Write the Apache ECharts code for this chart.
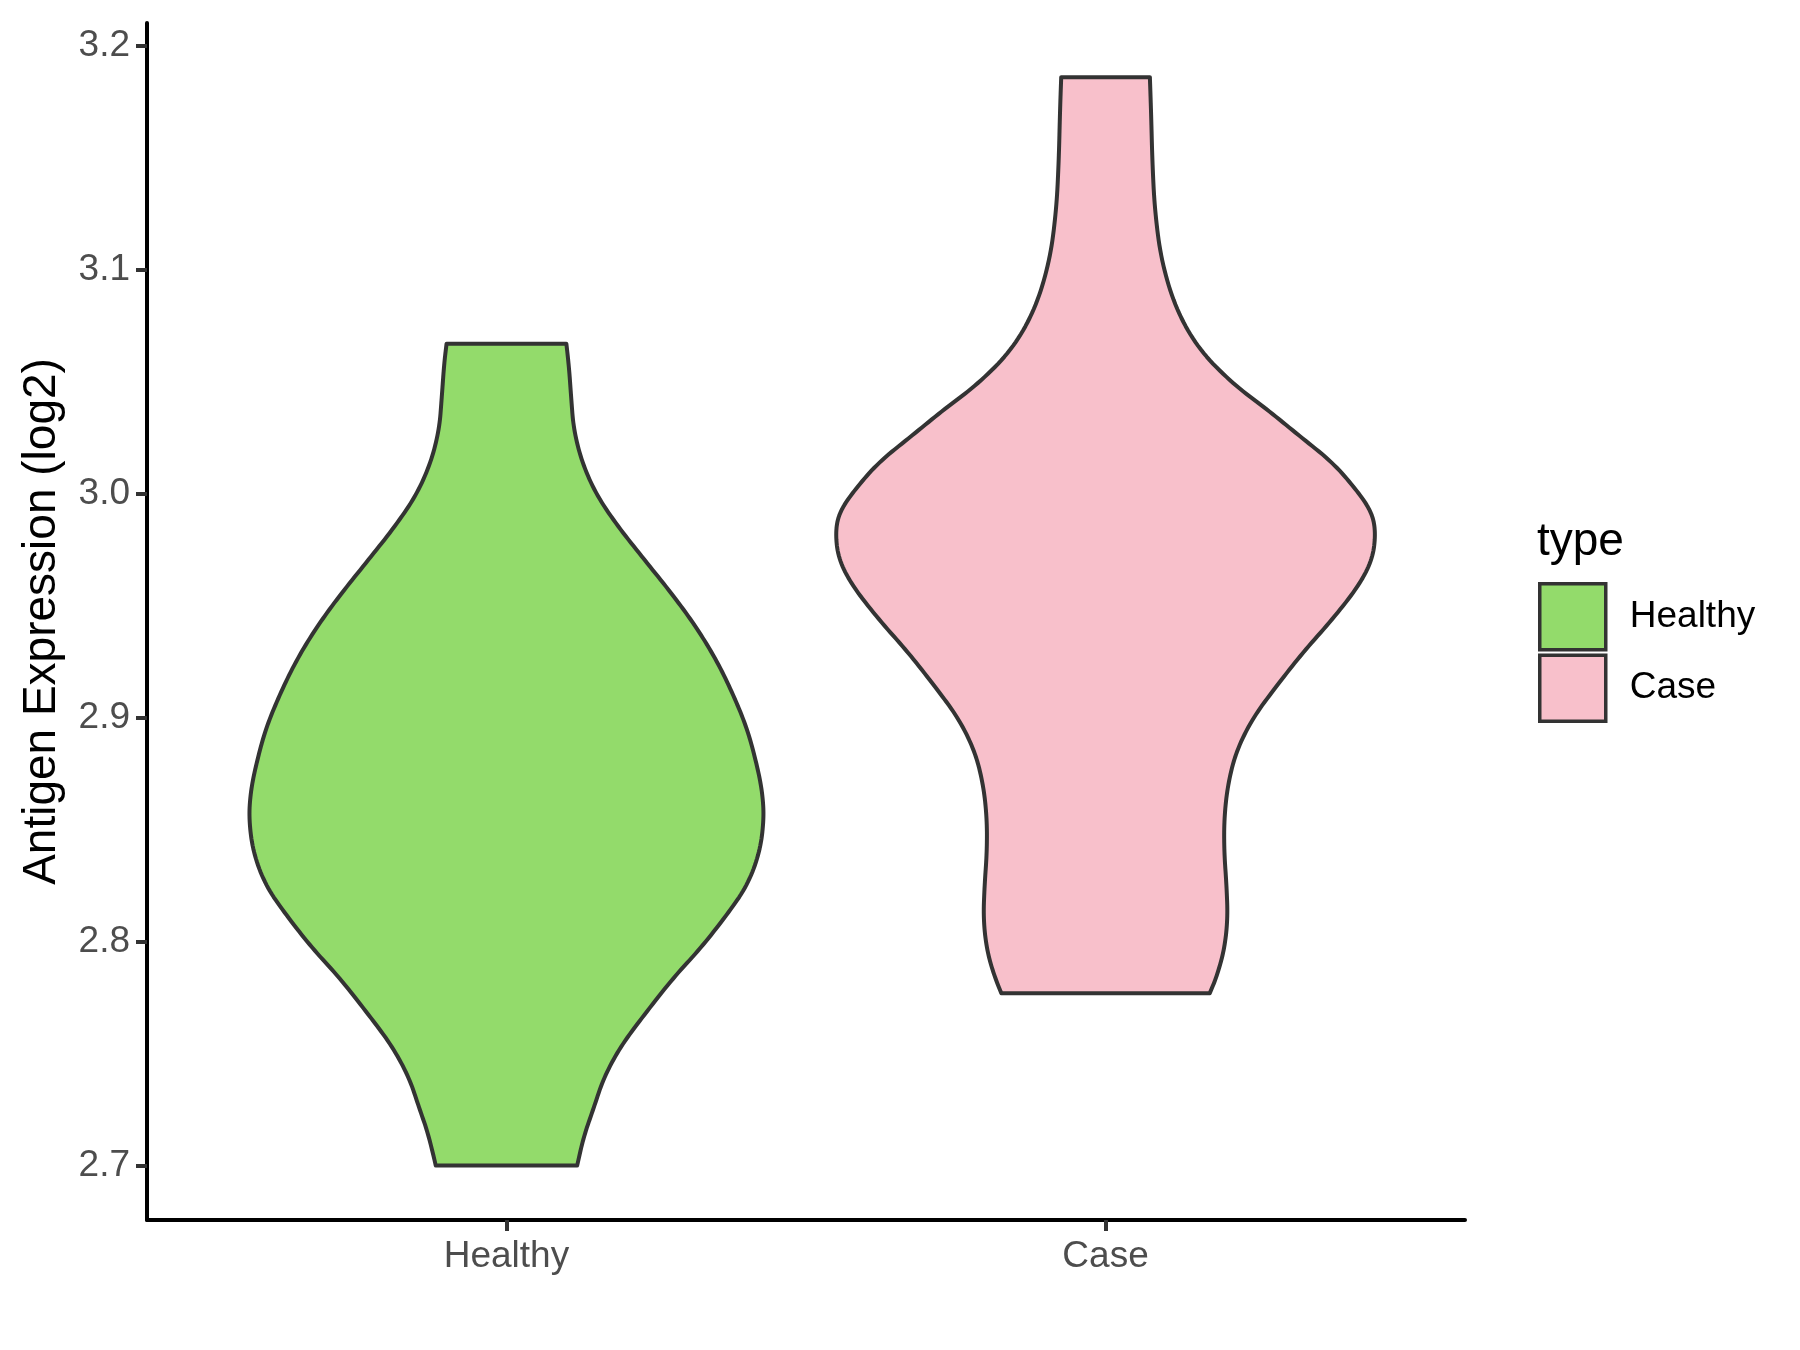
<!DOCTYPE html>
<html>
<head>
<meta charset="utf-8">
<script src="https://cdn.jsdelivr.net/npm/echarts@6/dist/echarts.min.js"></script>
<style>
html,body{margin:0;padding:0;background:#ffffff;}
#chart{width:1800px;height:1350px;}
</style>
</head>
<body>
<div id="chart"></div>
<script>
// ---- data ----
const categories = ['Healthy', 'Case'];
const categoryPos = [1, 2];
const yTicks = [2.7, 2.8, 2.9, 3.0, 3.1, 3.2];

// violin outline: y value (top -> bottom) and half-width (in category units)
const healthyY = [3.067, 3.058, 3.043, 3.029, 3.014, 2.999, 2.984, 2.969, 2.954, 2.940, 2.925, 2.910, 2.895, 2.879, 2.867, 2.855, 2.840, 2.825, 2.812, 2.797, 2.784, 2.767, 2.753, 2.739, 2.726, 2.713, 2.700];
const healthyW = [0.100, 0.104, 0.108, 0.112, 0.126, 0.151, 0.190, 0.235, 0.280, 0.318, 0.352, 0.379, 0.402, 0.418, 0.427, 0.430, 0.423, 0.402, 0.368, 0.324, 0.279, 0.229, 0.190, 0.162, 0.146, 0.129, 0.118];

const caseY = [3.186, 3.171, 3.149, 3.127, 3.104, 3.082, 3.064, 3.049, 3.038, 3.026, 3.014, 3.002, 2.992, 2.983, 2.971, 2.959, 2.944, 2.929, 2.914, 2.900, 2.885, 2.870, 2.855, 2.840, 2.825, 2.810, 2.796, 2.784, 2.777];
const caseW = [0.074, 0.076, 0.078, 0.082, 0.093, 0.118, 0.157, 0.213, 0.268, 0.323, 0.379, 0.418, 0.444, 0.451, 0.446, 0.423, 0.379, 0.329, 0.285, 0.246, 0.218, 0.204, 0.198, 0.198, 0.202, 0.204, 0.198, 0.185, 0.174];

const fillColors = ['#93DB6B', '#F8C0CB'];
const outlineColor = '#333333';
const FONT = '"Liberation Sans", Arial, Helvetica, sans-serif';

const violins = [
  { y: healthyY, w: healthyW },
  { y: caseY, w: caseW }
];

// ---- rendering helpers (smooth the outline through midpoints) ----
function smoothSide(p) {
  const out = [p[0]];
  let cur = p[0];
  for (let i = 1; i < p.length - 1; i++) {
    const c = p[i];
    const end = [(p[i][0] + p[i + 1][0]) / 2, (p[i][1] + p[i + 1][1]) / 2];
    for (let k = 1; k <= 10; k++) {
      const t = k / 10, a = (1 - t) * (1 - t), b = 2 * (1 - t) * t, d = t * t;
      out.push([a * cur[0] + b * c[0] + d * end[0], a * cur[1] + b * c[1] + d * end[1]]);
    }
    cur = end;
  }
  out.push(p[p.length - 1]);
  return out;
}

function makeRender(idx) {
  return function (params, api) {
    const v = violins[idx];
    const xc = api.value(0);
    const right = v.y.map((y, i) => api.coord([xc + v.w[i], y]));
    const left = v.y.map((y, i) => api.coord([xc - v.w[i], y])).reverse();
    const pts = smoothSide(right).concat(smoothSide(left));
    return {
      type: 'polygon',
      shape: { points: pts },
      style: { fill: api.visual('color'), stroke: outlineColor, lineWidth: 4, lineJoin: 'round' }
    };
  };
}

const chart = echarts.init(document.getElementById('chart'), null, { renderer: 'canvas' });

const option = {
  backgroundColor: '#ffffff',
  animation: false,
  title: {
    text: 'type',
    left: 1537,
    top: 519,
    padding: 0,
    textStyle: { fontSize: 46, fontWeight: 'normal', color: '#000000', fontFamily: FONT }
  },
  legend: {
    orient: 'vertical',
    left: 1538,
    top: 582,
    padding: 0,
    itemWidth: 66,
    itemHeight: 66,
    itemGap: 2,
    icon: 'rect',
    selectedMode: false,
    textStyle: { fontSize: 37, color: '#000000', fontFamily: FONT, padding: [0, 0, 0, 19] },
    data: categories.map((c, i) => ({
      name: c,
      itemStyle: { color: fillColors[i], borderColor: outlineColor, borderWidth: 3.5 }
    }))
  },
  grid: { left: 147, right: 335, top: 23, bottom: 130, containLabel: false, outerBoundsMode: 'none' },
  xAxis: {
    type: 'value',
    min: 0.4,
    max: 2.6,
    splitLine: { show: false },
    axisLine: { show: true, onZero: false, lineStyle: { color: '#000000', width: 4 } },
    axisTick: { show: true, customValues: categoryPos, length: 11, lineStyle: { color: '#333333', width: 4 } },
    axisLabel: {
      customValues: categoryPos,
      formatter: function (v) { const i = categoryPos.indexOf(v); return i >= 0 ? categories[i] : ''; },
      fontSize: 37, color: '#4D4D4D', fontFamily: FONT, margin: 18
    }
  },
  yAxis: {
    type: 'value',
    min: 2.6757,
    max: 3.2102,
    name: 'Antigen Expression (log2)',
    nameLocation: 'middle',
    nameGap: 82,
    nameRotate: 90,
    nameTextStyle: { fontSize: 46, color: '#000000', fontFamily: FONT },
    splitLine: { show: false },
    axisLine: { show: true, onZero: false, lineStyle: { color: '#000000', width: 4 } },
    axisTick: { show: true, customValues: yTicks, length: 11, lineStyle: { color: '#333333', width: 4 } },
    axisLabel: {
      customValues: yTicks,
      formatter: function (v) { return Number(v).toFixed(1); },
      fontSize: 37, color: '#4D4D4D', fontFamily: FONT, margin: 17
    }
  },
  series: categories.map((c, i) => ({
    name: c,
    type: 'custom',
    clip: false,
    itemStyle: { color: fillColors[i] },
    encode: { x: 0, y: 1 },
    data: [[categoryPos[i], violins[i].y[0]]],
    renderItem: makeRender(i)
  }))
};

chart.setOption(option);
</script>
</body>
</html>
